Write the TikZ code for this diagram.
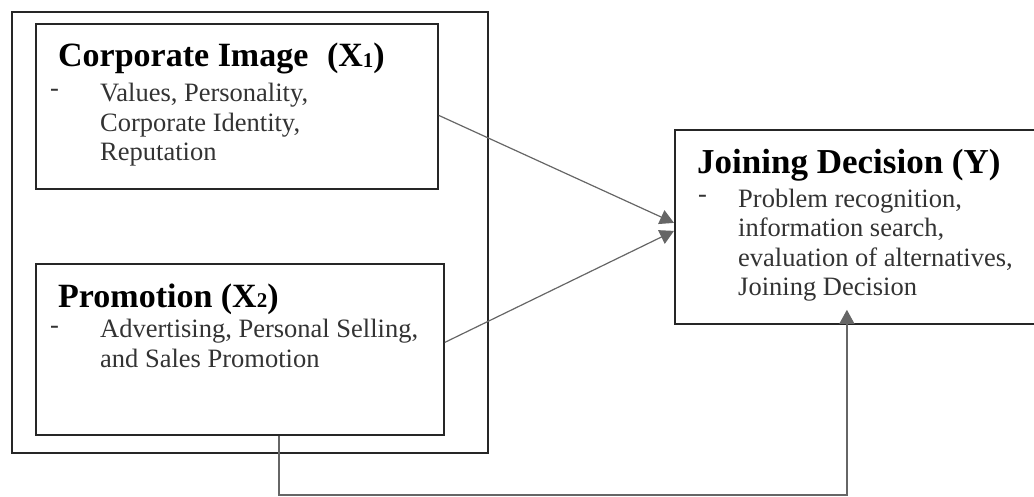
\documentclass[tikz,border=0pt]{standalone}
\usepackage{fontspec}
\setmainfont{Liberation Serif}
\usetikzlibrary{arrows.meta,positioning,calc}
\tikzstyle{block}=[rectangle, draw=black!85, line width=1.8pt, anchor=north west, inner sep=0pt]
\tikzstyle{head}=[anchor=base west, inner sep=0pt, font=\bfseries\fontsize{34}{36}\selectfont]
\tikzstyle{item}=[anchor=base west, inner sep=0pt, align=left, text=black!80, font=\fontsize{26.5}{29.5}\selectfont]
\tikzstyle{link}=[draw=black!60, line width=1.2pt, -{Triangle[length=14pt,width=15pt]}]
\newcommand{\idx}[1]{\raisebox{-1pt}{\fontsize{21}{21}\selectfont #1}}

\begin{document}
\begin{tikzpicture}[x=1pt,y=-1pt]
\useasboundingbox (0,0) rectangle (1034,497);
% boxes
\node (grp) at (11,11)[block, minimum width=476pt, minimum height=441pt] {};
\node (ci) at (35,23)[block, minimum width=402pt, minimum height=165pt] {};
\node (pr) at (35,263)[block, minimum width=408pt, minimum height=171pt] {};
\node (jd) at (674,129)[block, minimum width=366pt, minimum height=194pt] {};
% texts (multi-line ones sit on their last baseline)
\node (cit) at (58,67)[head] {Corporate Image\hspace{0.3em} (X\idx{1})};
\node (cib) at (50,97)[item] {-};
\node (cil) at (100,161)[item] {Values, Personality,\\Corporate Identity,\\Reputation};
\node (prt) at (58,307)[head] {Promotion (X\idx{2})};
\node (prb) at (50,333)[item] {-};
\node (prl) at (100,367)[item] {Advertising, Personal Selling,\\and Sales Promotion};
\node (jdt) at (697,174)[head, font=\bfseries\fontsize{35}{36}\selectfont] {Joining Decision (Y)};
\node (jdb) at (698,203)[item] {-};
\node (jdl) at (738,296)[item] {Problem recognition,\\information search,\\evaluation of alternatives,\\Joining Decision};
% connectors
\coordinate (low) at (0,495);
\draw[link] ($(ci.east)+(0,9)$) -- ($(jd.west)+(0,-4)$);
\draw[link] ($(pr.east)+(0,-7)$) -- ($(jd.west)+(0,4)$);
\draw[link, shorten >=-15pt] ([xshift=39pt]pr.south) -- ([xshift=39pt]pr.south |- low) -| ([xshift=-11pt]jd.south);
\end{tikzpicture}
\end{document}
